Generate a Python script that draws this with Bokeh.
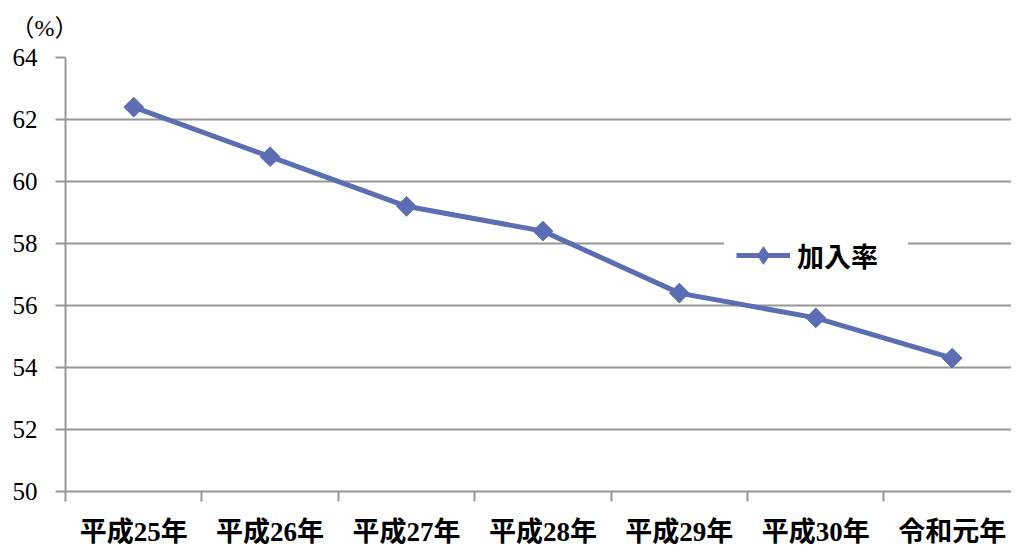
import numpy as np
from bokeh.plotting import figure
from bokeh.models import Range1d, FixedTicker, Legend, LegendItem
from bokeh.embed import file_html
from bokeh.resources import INLINE

categories = ["平成25年", "平成26年", "平成27年", "平成28年", "平成29年", "平成30年", "令和元年"]
rates = [62.4, 60.8, 59.2, 58.4, 56.4, 55.6, 54.3]
y_ticks = [50, 52, 54, 56, 58, 60, 62, 64]
series_name = "加入率"
unit_label = "（%）"

LINE_COLOR = "#5B6DB3"
GRID_COLOR = "#979797"
SERIF = "Liberation Serif, Noto Sans CJK JP"

n = len(categories)
xs = [i + 0.5 for i in range(n)]
centers = list(xs)
bounds = list(range(n + 1))

p = figure(width=1011, height=549, output_backend="svg", toolbar_location=None,
           x_range=Range1d(0, 6.935), y_range=Range1d(50, 64),
           min_border_left=65, min_border_right=0, min_border_top=57, min_border_bottom=56)
p.outline_line_alpha = 0
p.background_fill_color = "white"
p.border_fill_color = "white"

# title used as the unit label
p.title.text = unit_label
p.title.align = "left"
p.title.vertical_align = "top"
p.title.offset = -55
p.title.standoff = 29
p.title.text_font = SERIF
p.title.text_font_style = "normal"
p.title.text_font_size = "24px"
p.title.text_color = "black"

# grid
p.xgrid.visible = False
p.ygrid.ticker = FixedTicker(ticks=y_ticks)
p.ygrid.grid_line_color = GRID_COLOR
p.ygrid.grid_line_width = 2

# y axis
ya = p.yaxis[0]
ya.ticker = FixedTicker(ticks=y_ticks, minor_ticks=[])
ya.axis_line_color = GRID_COLOR
ya.axis_line_width = 2
ya.major_tick_line_color = GRID_COLOR
ya.major_tick_line_width = 2
ya.major_tick_out = 10
ya.major_tick_in = 0
ya.minor_tick_line_alpha = 0
ya.major_label_text_font = SERIF
ya.major_label_text_font_size = "25px"
ya.major_label_text_color = "black"
ya.major_label_standoff = 18

# x axis
xa = p.xaxis[0]
xa.ticker = FixedTicker(ticks=centers, minor_ticks=bounds)
xa.major_label_overrides = {c: lab for c, lab in zip(centers, categories)}
xa.axis_line_color = GRID_COLOR
xa.axis_line_width = 2
xa.major_tick_line_alpha = 0
xa.major_tick_out = 0
xa.major_tick_in = 0
xa.minor_tick_line_color = GRID_COLOR
xa.minor_tick_line_width = 2
xa.minor_tick_out = 10
xa.minor_tick_in = 0
xa.major_label_text_font = SERIF
xa.major_label_text_font_style = "bold"
xa.major_label_text_font_size = "27px"
xa.major_label_text_color = "black"
xa.major_label_standoff = 15

line = p.line(xs, rates, line_color=LINE_COLOR, line_width=5)
# diamond used for the legend glyph (tiny on the plot, hidden under the markers)
legend_marker = p.scatter(xs, rates, marker="diamond", size=2,
                          fill_color=LINE_COLOR, line_color=LINE_COLOR)
p.scatter(xs, rates, marker="square", angle=np.pi / 4, size=14,
          fill_color=LINE_COLOR, line_color=LINE_COLOR)

legend = Legend(items=[LegendItem(label=series_name, renderers=[line, legend_marker])],
                location=(659, 202), padding=12, margin=0,
                glyph_width=54, glyph_height=44, label_standoff=7, label_width=99,
                label_text_font=SERIF, label_text_font_style="bold",
                label_text_font_size="27px", label_text_color="black",
                border_line_alpha=0, background_fill_color="white",
                background_fill_alpha=1)
p.add_layout(legend, "center")

open("out.html", "w").write(file_html(p, INLINE))
